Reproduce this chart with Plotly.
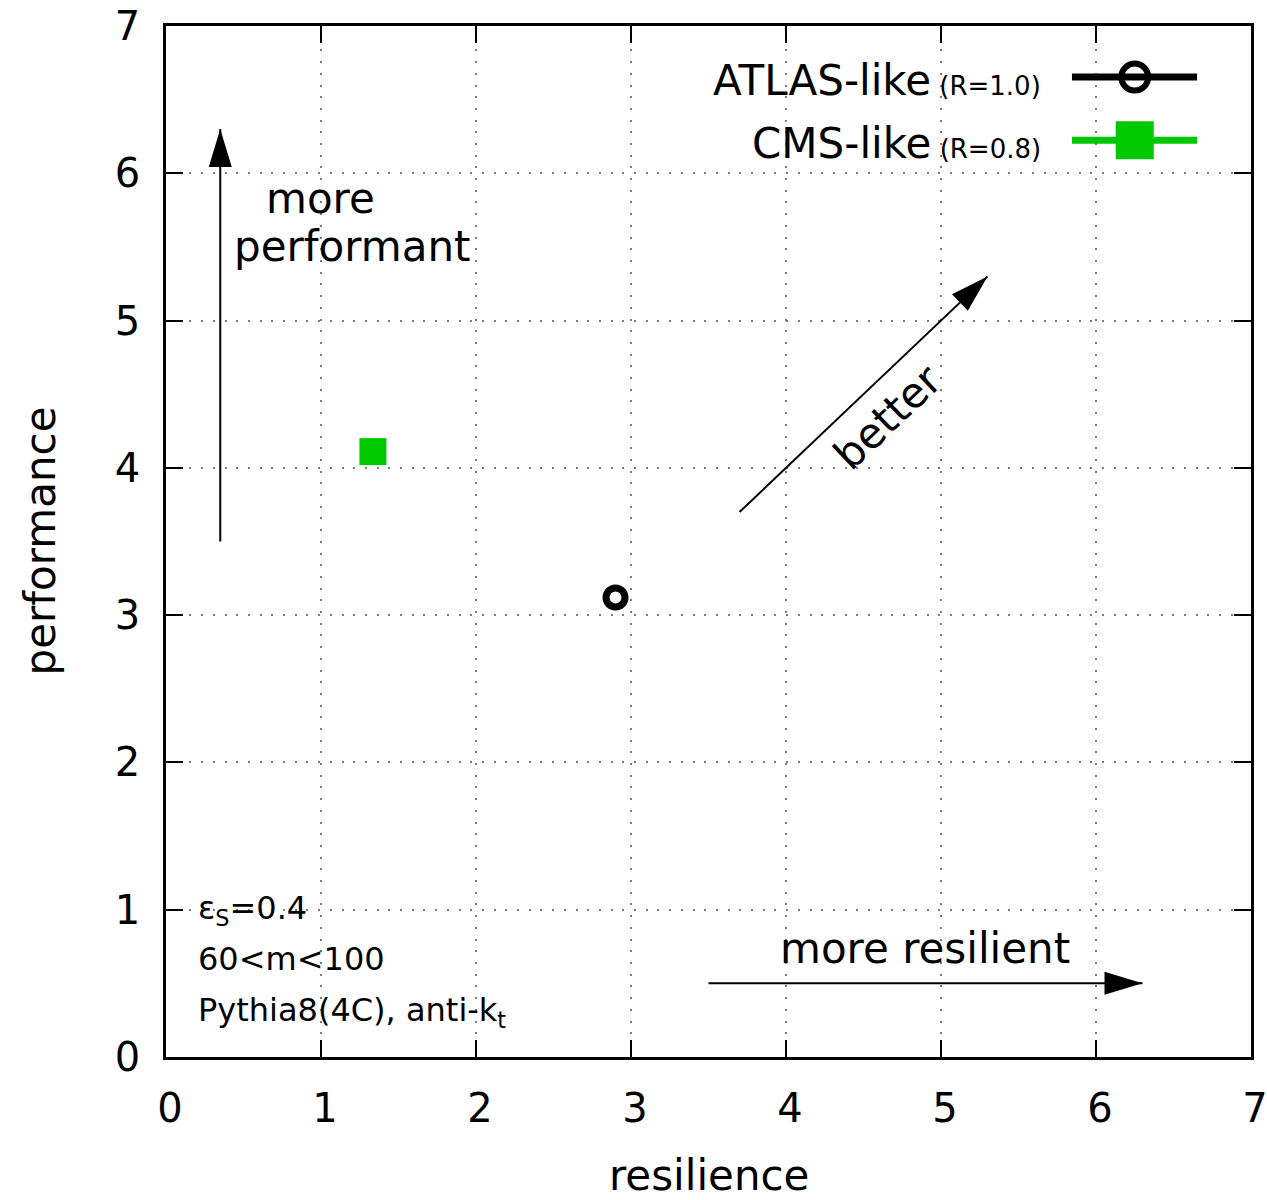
import plotly.graph_objects as go

# Jet-algorithm benchmark: resilience vs performance
names = ["ATLAS-like", "CMS-like"]
radius_labels = ["(R=1.0)", "(R=0.8)"]
resilience = [2.90, 1.335]
performance = [3.12, 4.11]
colors = ["#000000", "#00c800"]
tick_values = [0, 1, 2, 3, 4, 5, 6, 7]

FONT = "DejaVu Sans"
BIG = 42
W, H = 1267, 1200
L, R, T, B = 166, 16, 26, 143

fig = go.Figure()

# data points
fig.add_trace(go.Scatter(
    x=[resilience[0]], y=[performance[0]], mode="markers", showlegend=False,
    marker=dict(symbol="circle-open", size=19, color=colors[0],
                line=dict(width=7, color=colors[0])),
))
fig.add_trace(go.Scatter(
    x=[resilience[1]], y=[performance[1]], mode="markers", showlegend=False,
    marker=dict(symbol="square", size=27, color=colors[1], line=dict(width=0)),
))

# key: label text on the left, line sample with marker on the right
key_y = [6.653, 6.225]
key_x0, key_x1, key_xm, key_text_x = 5.845, 6.652, 6.25, 5.658
shapes = []
for i in range(2):
    shapes.append(dict(type="line", xref="x", yref="y", x0=key_x0, x1=key_x1,
                       y0=key_y[i], y1=key_y[i],
                       line=dict(color=colors[i], width=7), layer="above"))
fig.add_trace(go.Scatter(
    x=[key_xm], y=[key_y[0]], mode="markers", showlegend=False, hoverinfo="skip",
    marker=dict(symbol="circle-open", size=27, color=colors[0],
                line=dict(width=6, color=colors[0])),
))
fig.add_trace(go.Scatter(
    x=[key_xm], y=[key_y[1]], mode="markers", showlegend=False, hoverinfo="skip",
    marker=dict(symbol="square", size=38, color=colors[1], line=dict(width=0)),
))

annotations = []
for i in range(2):
    annotations.append(dict(
        x=key_text_x, y=key_y[i] - 0.02, xref="x", yref="y", xanchor="right",
        yanchor="middle", showarrow=False,
        text=f"{names[i]}<span style='font-size:26px'> {radius_labels[i]}</span>",
        font=dict(family=FONT, size=BIG, color="black"),
    ))


def arrow(x0, y0, x1, y1, dx, dy, head_len=38, head_half=11.5):
    """Line from (x0,y0) to (x1,y1) with a filled head; dx,dy is the pixel direction."""
    n = (dx * dx + dy * dy) ** 0.5
    ux, uy = dx / n, dy / n
    px, py = -uy, ux
    bx, by = -head_len * ux, -head_len * uy
    path = (f"M0,0 L{bx + head_half * px:.2f},{by + head_half * py:.2f} "
            f"L{bx - head_half * px:.2f},{by - head_half * py:.2f} Z")
    return [
        dict(type="line", xref="x", yref="y", x0=x0, y0=y0, x1=x1, y1=y1,
             line=dict(color="black", width=2), layer="above"),
        dict(type="path", xref="x", yref="y", xsizemode="pixel", ysizemode="pixel",
             xanchor=x1, yanchor=y1, path=path, fillcolor="black",
             line=dict(color="black", width=0), layer="above"),
    ]


shapes += arrow(0.35, 3.5, 0.35, 6.3, 0, 1)
shapes += arrow(3.5, 0.5, 6.3, 0.5, 1, 0)
shapes += arrow(3.7, 3.7, 5.3, 5.3, 248, 235)

annotations += [
    dict(x=0.994, y=5.83, text="more", xref="x", yref="y", showarrow=False,
         font=dict(family=FONT, size=BIG, color="black")),
    dict(x=1.206, y=5.50, text="performant", xref="x", yref="y", showarrow=False,
         font=dict(family=FONT, size=BIG, color="black")),
    dict(x=4.897, y=0.735, text="more resilient", xref="x", yref="y", showarrow=False,
         font=dict(family=FONT, size=BIG, color="black")),
    dict(x=4.652, y=4.345, text="better", xref="x", yref="y", showarrow=False,
         textangle=-43.5, font=dict(family=FONT, size=BIG, color="black")),
    dict(x=0.195, y=1.0, text="ε<sub>S</sub>=0.4", xref="x", yref="y", showarrow=False,
         xanchor="left", font=dict(family=FONT, size=32, color="black")),
    dict(x=0.195, y=0.665, text="60&lt;m&lt;100", xref="x", yref="y", showarrow=False,
         xanchor="left", font=dict(family=FONT, size=32, color="black")),
    dict(x=0.195, y=0.305, text="Pythia8(4C), anti-k<sub>t</sub>", xref="x", yref="y",
         showarrow=False, xanchor="left", font=dict(family=FONT, size=32, color="black")),
    # axis titles
    dict(x=0.5, y=-(1175 - (H - B)) / (H - T - B), xref="paper", yref="paper",
         text="resilience", showarrow=False, yanchor="middle", borderpad=0,
         font=dict(family=FONT, size=BIG, color="black")),
    dict(x=-(L - 40) / (W - L - R), y=0.5, xref="paper", yref="paper",
         text="performance", showarrow=False, textangle=-90, xanchor="center",
         font=dict(family=FONT, size=BIG, color="black")),
]

axis_common = dict(
    range=[0, 7], tickvals=tick_values, ticktext=[str(v) for v in tick_values],
    showline=True, linecolor="black", linewidth=2.5, mirror="ticks",
    ticks="inside", ticklen=17, tickwidth=2, tickcolor="black",
    showgrid=True, gridcolor="#7a7a7a", gridwidth=1.6, griddash="2px,9.7px",
    zeroline=False, tickfont=dict(family=FONT, size=40, color="black"),
    fixedrange=True, automargin=False, ticklabeloverflow="allow",
)

fig.update_layout(
    width=W, height=H, margin=dict(l=L, r=R, t=T, b=B, autoexpand=False),
    paper_bgcolor="white", plot_bgcolor="white",
    xaxis=dict(**axis_common, ticklabelstandoff=14, ticklabelshift=4),
    yaxis=dict(**axis_common, ticklabelstandoff=15),
    shapes=shapes, annotations=annotations, showlegend=False,
)

fig.write_html("out.html")
